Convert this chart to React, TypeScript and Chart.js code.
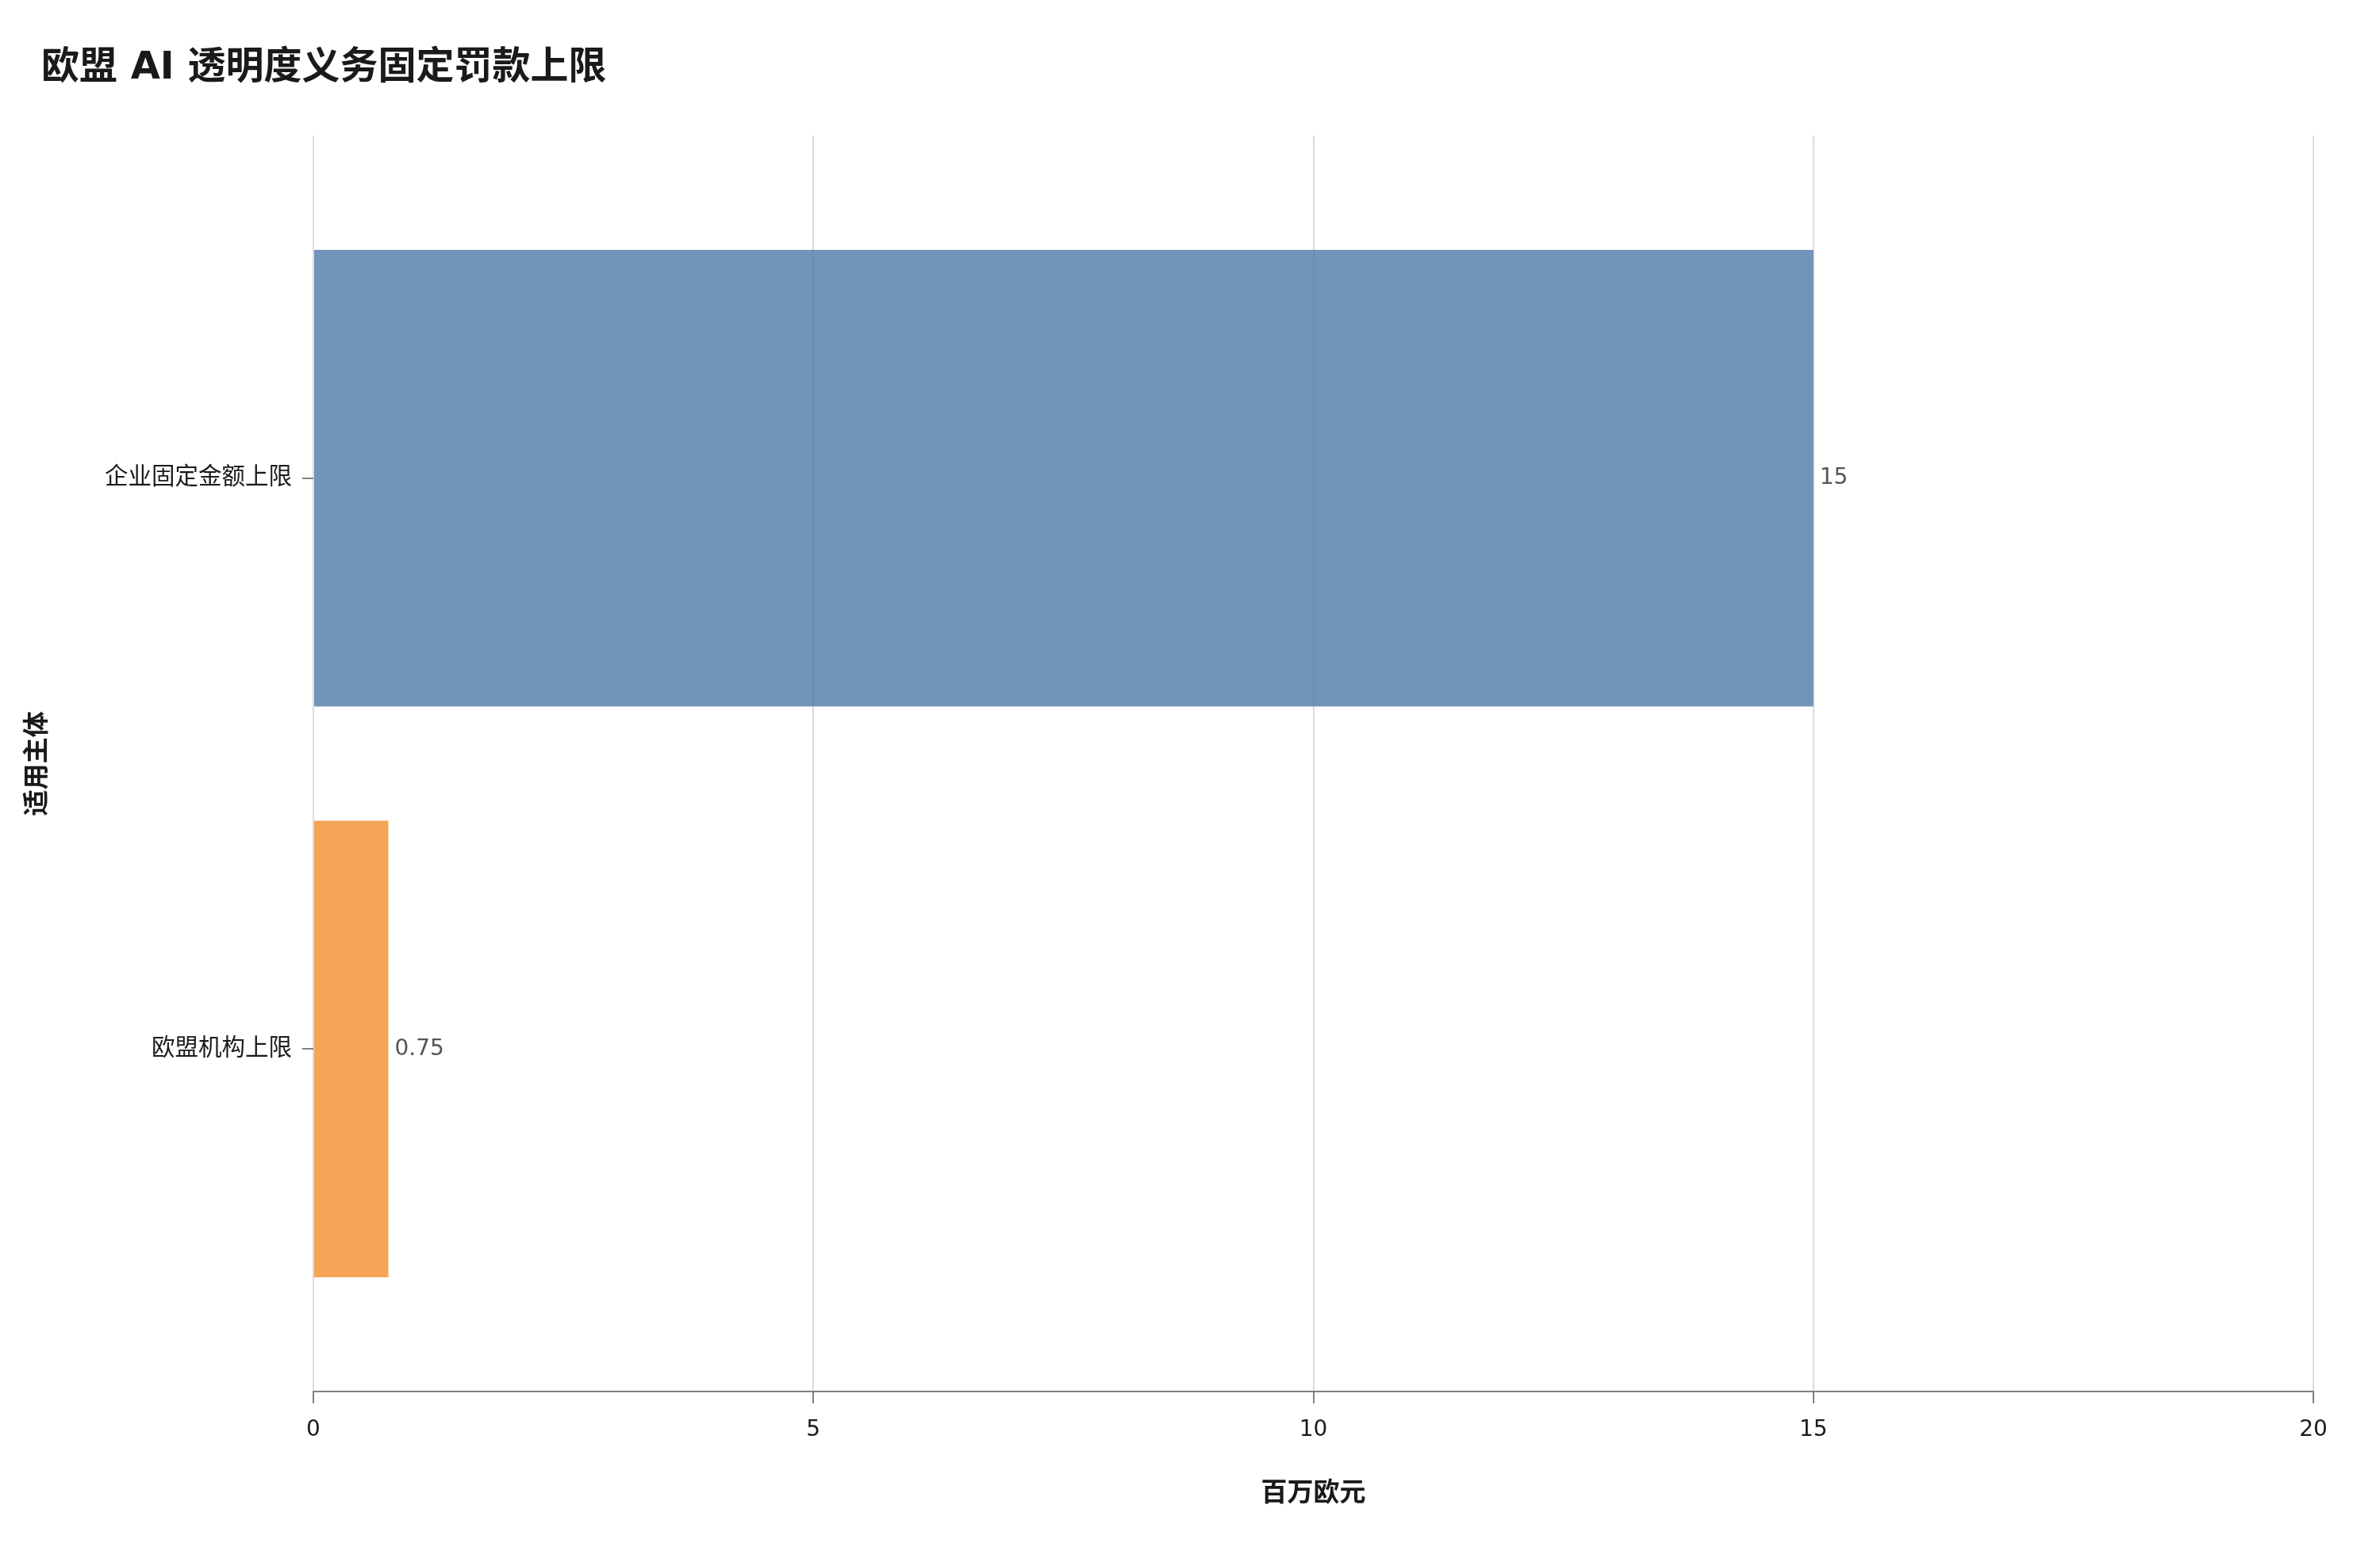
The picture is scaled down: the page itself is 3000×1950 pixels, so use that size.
import { useEffect, useRef } from 'react';
import { Chart, registerables, Plugin } from 'chart.js';

Chart.register(...registerables);

const chartTitle = '欧盟 AI 透明度义务固定罚款上限';
const categories = ['企业固定金额上限', '欧盟机构上限'];
const values = [15, 0.75];
const barColors = ['rgba(78, 121, 167, 0.8)', 'rgba(242, 142, 43, 0.8)'];
const xTicks = [0, 5, 10, 15, 20];
const xTitle = '百万欧元';
const yTitle = '适用主体';

const FONT = '"DejaVu Sans", "Noto Sans CJK SC", sans-serif';

// title drawn on the canvas so it can sit left of the y axis
const titlePlugin: Plugin<'bar'> = {
  id: 'pageTitle',
  afterDraw(chart) {
    const ctx = chart.ctx;
    ctx.save();
    ctx.font = `bold 48px ${FONT}`;
    ctx.fillStyle = '#1a1a1a';
    ctx.textAlign = 'left';
    ctx.textBaseline = 'alphabetic';
    ctx.fillText(chartTitle, 52, 99);
    ctx.restore();
  }
};

// value labels at the end of each bar
const valueLabels: Plugin<'bar'> = {
  id: 'valueLabels',
  afterDatasetsDraw(chart) {
    const ctx = chart.ctx;
    const meta = chart.getDatasetMeta(0);
    ctx.save();
    ctx.font = `28px ${FONT}`;
    ctx.fillStyle = '#555555';
    ctx.textAlign = 'left';
    ctx.textBaseline = 'middle';
    meta.data.forEach((bar, i) => {
      const { x, y } = bar.getProps(['x', 'y'], true);
      ctx.fillText(String(values[i]), x + 8, y);
    });
    ctx.restore();
  }
};

export default function App() {
  const canvasRef = useRef<HTMLCanvasElement | null>(null);

  useEffect(() => {
    if (!canvasRef.current) return;

    const chart = new Chart(canvasRef.current, {
      type: 'bar',
      data: {
        datasets: [
          {
            data: values.map((v, i) => ({ x: v, y: i })),
            backgroundColor: barColors,
            borderWidth: 0,
            categoryPercentage: 0.8,
            barPercentage: 1
          }
        ]
      },
      options: {
        indexAxis: 'y',
        responsive: true,
        maintainAspectRatio: false,
        animation: false,
        layout: { padding: { left: 20, top: 171, right: 84, bottom: 0 } },
        plugins: {
          legend: { display: false },
          tooltip: { enabled: false }
        },
        scales: {
          x: {
            type: 'linear',
            min: 0,
            max: 20,
            afterBuildTicks: (axis: any) => {
              axis.ticks = xTicks.map(v => ({ value: v }));
            },
            ticks: { font: { family: FONT, size: 28 }, color: '#1a1a1a', padding: 17 },
            grid: { color: '#dcdcdc', lineWidth: 2, tickLength: 15, tickColor: '#808080' },
            border: { color: '#808080', width: 2 },
            title: {
              display: true,
              text: xTitle,
              color: '#1a1a1a',
              font: { family: FONT, size: 33, weight: 'bold' },
              padding: { top: 0, bottom: 47 }
            },
            afterFit: (scale: any) => {
              scale.height = 196;
            }
          },
          y: {
            type: 'linear',
            reverse: true,
            offset: false,
            min: -0.6,
            max: 1.6,
            afterBuildTicks: (axis: any) => {
              axis.ticks = categories.map((_, i) => ({ value: i }));
            },
            ticks: {
              callback: (v: any) => categories[v as number] ?? '',
              font: { family: FONT, size: 29.5 },
              color: '#1a1a1a',
              padding: 13
            },
            grid: {
              drawOnChartArea: false,
              offset: false,
              tickLength: 14,
              tickColor: '#808080',
              lineWidth: 2
            },
            border: { display: false },
            title: {
              display: true,
              text: yTitle,
              color: '#1a1a1a',
              font: { family: FONT, size: 33, weight: 'bold' },
              padding: { top: 9, bottom: 0 }
            },
            afterFit: (scale: any) => {
              scale.width = 375;
            }
          }
        }
      },
      plugins: [valueLabels, titlePlugin]
    });

    return () => chart.destroy();
  }, []);

  return (
    <div style={{ position: 'absolute', left: 0, top: 0, width: 3000, height: 1950, background: '#fff' }}>
      <canvas ref={canvasRef} />
    </div>
  );
}
